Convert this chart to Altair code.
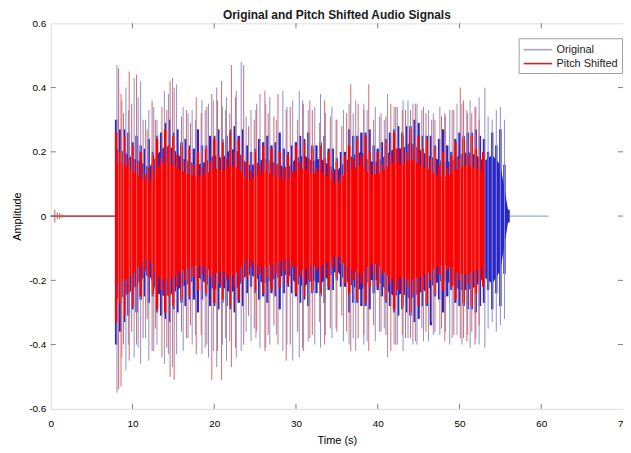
import altair as alt
import pandas as pd

# ---------------- data ----------------
# solid inner body of each waveform, one value per second
red_in_t = [8, 9, 10, 11, 12, 13, 14, 15, 16, 17, 18, 19, 20, 21, 22, 23, 24, 25, 26, 27,
            28, 29, 30, 31, 32, 33, 34, 35, 36, 37, 38, 39, 40, 41, 42, 43, 44, 45, 46, 47,
            48, 49, 50, 51, 52, 52.9]
red_in_hi = [0.17, 0.16, 0.14, 0.12, 0.10, 0.15, 0.17, 0.16, 0.14, 0.13, 0.12, 0.13, 0.15, 0.14, 0.16,
             0.15, 0.11, 0.12, 0.14, 0.13, 0.12, 0.11, 0.14, 0.15, 0.13, 0.14, 0.12, 0.10, 0.13, 0.15,
             0.16, 0.13, 0.13, 0.15, 0.17, 0.16, 0.18, 0.16, 0.15, 0.13, 0.12, 0.13, 0.15, 0.16, 0.15,
             0.14]
red_in_lo = [-0.21, -0.20, -0.18, -0.15, -0.13, -0.19, -0.20, -0.19, -0.17, -0.16, -0.15, -0.16, -0.18, -0.17, -0.19,
             -0.17, -0.13, -0.15, -0.16, -0.15, -0.14, -0.13, -0.16, -0.17, -0.15, -0.16, -0.14, -0.12, -0.15, -0.17,
             -0.18, -0.15, -0.15, -0.18, -0.20, -0.19, -0.20, -0.19, -0.18, -0.16, -0.15, -0.16, -0.18, -0.18, -0.17,
             -0.16]
blue_in_t = [8, 9, 10, 11, 12, 13, 14, 15, 16, 17, 18, 19, 20, 21, 22, 23, 24, 25, 26, 27,
             28, 29, 30, 31, 32, 33, 34, 35, 36, 37, 38, 39, 40, 41, 42, 43, 44, 45, 46, 47,
             48, 49, 50, 51, 52, 53, 54, 55, 56]
blue_in_hi = [0.21, 0.20, 0.18, 0.17, 0.15, 0.19, 0.22, 0.21, 0.18, 0.17, 0.16, 0.17, 0.19, 0.18, 0.21,
              0.20, 0.16, 0.16, 0.18, 0.17, 0.16, 0.15, 0.18, 0.19, 0.17, 0.18, 0.16, 0.14, 0.17, 0.19,
              0.20, 0.17, 0.17, 0.19, 0.21, 0.21, 0.23, 0.21, 0.19, 0.18, 0.17, 0.17, 0.19, 0.20, 0.19,
              0.17, 0.19, 0.16, 0.01]
blue_in_lo = [-0.26, -0.25, -0.23, -0.20, -0.18, -0.24, -0.25, -0.24, -0.22, -0.21, -0.19, -0.21, -0.23, -0.22, -0.24,
              -0.22, -0.18, -0.19, -0.21, -0.20, -0.19, -0.18, -0.21, -0.22, -0.20, -0.21, -0.19, -0.17, -0.20, -0.22,
              -0.23, -0.20, -0.20, -0.23, -0.25, -0.24, -0.26, -0.24, -0.23, -0.21, -0.20, -0.21, -0.23, -0.23, -0.22,
              -0.19, -0.21, -0.17, -0.01]

# dense strokes forming the ragged edge, every half second
red_t = [8.0, 8.5, 9.0, 9.5, 10.0, 10.5, 11.0, 11.5, 12.0, 12.5,
         13.0, 13.5, 14.0, 14.5, 15.0, 15.5, 16.0, 16.5, 17.0, 17.5,
         18.0, 18.5, 19.0, 19.5, 20.0, 20.5, 21.0, 21.5, 22.0, 22.5,
         23.0, 23.5, 24.0, 24.5, 25.0, 25.5, 26.0, 26.5, 27.0, 27.5,
         28.0, 28.5, 29.0, 29.5, 30.0, 30.5, 31.0, 31.5, 32.0, 32.5,
         33.0, 33.5, 34.0, 34.5, 35.0, 35.5, 36.0, 36.5, 37.0, 37.5,
         38.0, 38.5, 39.0, 39.5, 40.0, 40.5, 41.0, 41.5, 42.0, 42.5,
         43.0, 43.5, 44.0, 44.5, 45.0, 45.5, 46.0, 46.5, 47.0, 47.5,
         48.0, 48.5, 49.0, 49.5, 50.0, 50.5, 51.0, 51.5, 52.0, 52.5,
         52.9]
red_hi = [0.26, 0.20, 0.25, 0.18, 0.22, 0.17, 0.20, 0.13, 0.15, 0.19,
          0.24, 0.18, 0.27, 0.22, 0.25, 0.19, 0.22, 0.17, 0.21, 0.16,
          0.20, 0.15, 0.21, 0.17, 0.24, 0.19, 0.23, 0.18, 0.26, 0.20,
          0.24, 0.19, 0.17, 0.14, 0.20, 0.16, 0.22, 0.17, 0.21, 0.16,
          0.20, 0.15, 0.19, 0.14, 0.22, 0.17, 0.23, 0.18, 0.21, 0.15,
          0.22, 0.18, 0.20, 0.14, 0.17, 0.13, 0.19, 0.22, 0.18, 0.24,
          0.19, 0.25, 0.20, 0.16, 0.20, 0.16, 0.23, 0.19, 0.26, 0.21,
          0.25, 0.20, 0.27, 0.22, 0.25, 0.21, 0.24, 0.18, 0.21, 0.16,
          0.20, 0.15, 0.19, 0.23, 0.18, 0.24, 0.19, 0.25, 0.21, 0.18,
          0.20]
red_lo = [-0.33, -0.27, -0.31, -0.24, -0.28, -0.22, -0.25, -0.17, -0.19, -0.24,
          -0.29, -0.23, -0.30, -0.25, -0.28, -0.22, -0.26, -0.20, -0.25, -0.19,
          -0.23, -0.18, -0.24, -0.19, -0.27, -0.21, -0.26, -0.20, -0.28, -0.22,
          -0.26, -0.20, -0.19, -0.16, -0.23, -0.18, -0.24, -0.19, -0.23, -0.18,
          -0.22, -0.17, -0.21, -0.16, -0.24, -0.19, -0.25, -0.20, -0.23, -0.17,
          -0.24, -0.19, -0.22, -0.16, -0.19, -0.15, -0.21, -0.24, -0.20, -0.26,
          -0.21, -0.27, -0.22, -0.18, -0.22, -0.18, -0.26, -0.21, -0.29, -0.23,
          -0.28, -0.22, -0.30, -0.24, -0.28, -0.23, -0.27, -0.20, -0.24, -0.18,
          -0.23, -0.17, -0.22, -0.26, -0.20, -0.27, -0.21, -0.28, -0.24, -0.20,
          -0.22]

blue_t = [8.0, 8.5, 9.0, 9.5, 10.0, 10.5, 11.0, 11.5, 12.0, 12.5,
          13.0, 13.5, 14.0, 14.5, 15.0, 15.5, 16.0, 16.5, 17.0, 17.5,
          18.0, 18.5, 19.0, 19.5, 20.0, 20.5, 21.0, 21.5, 22.0, 22.5,
          23.0, 23.5, 24.0, 24.5, 25.0, 25.5, 26.0, 26.5, 27.0, 27.5,
          28.0, 28.5, 29.0, 29.5, 30.0, 30.5, 31.0, 31.5, 32.0, 32.5,
          33.0, 33.5, 34.0, 34.5, 35.0, 35.5, 36.0, 36.5, 37.0, 37.5,
          38.0, 38.5, 39.0, 39.5, 40.0, 40.5, 41.0, 41.5, 42.0, 42.5,
          43.0, 43.5, 44.0, 44.5, 45.0, 45.5, 46.0, 46.5, 47.0, 47.5,
          48.0, 48.5, 49.0, 49.5, 50.0, 50.5, 51.0, 51.5, 52.0, 52.5,
          53.0, 53.5, 54.0, 54.5, 55.0, 55.5, 56.0]
blue_hi = [0.30, 0.27, 0.27, 0.26, 0.23, 0.25, 0.22, 0.21, 0.24, 0.20,
           0.25, 0.26, 0.29, 0.30, 0.26, 0.27, 0.23, 0.24, 0.22, 0.21,
           0.27, 0.22, 0.22, 0.25, 0.25, 0.27, 0.24, 0.25, 0.27, 0.28,
           0.25, 0.27, 0.22, 0.20, 0.21, 0.24, 0.23, 0.25, 0.22, 0.23,
           0.26, 0.21, 0.20, 0.22, 0.23, 0.25, 0.24, 0.26, 0.22, 0.22,
           0.23, 0.25, 0.21, 0.21, 0.18, 0.20, 0.20, 0.27, 0.25, 0.25,
           0.26, 0.26, 0.27, 0.22, 0.21, 0.23, 0.24, 0.26, 0.27, 0.28,
           0.26, 0.28, 0.28, 0.30, 0.29, 0.25, 0.25, 0.25, 0.22, 0.24,
           0.27, 0.22, 0.20, 0.24, 0.26, 0.25, 0.26, 0.26, 0.27, 0.25,
           0.24, 0.20, 0.26, 0.22, 0.27, 0.16, 0.02]
blue_lo = [-0.40, -0.36, -0.33, -0.31, -0.29, -0.30, -0.26, -0.25, -0.27, -0.25,
           -0.30, -0.31, -0.32, -0.33, -0.29, -0.30, -0.27, -0.28, -0.26, -0.26,
           -0.30, -0.26, -0.25, -0.28, -0.28, -0.29, -0.27, -0.28, -0.29, -0.30,
           -0.27, -0.28, -0.24, -0.22, -0.24, -0.26, -0.25, -0.27, -0.24, -0.25,
           -0.29, -0.24, -0.22, -0.24, -0.25, -0.27, -0.26, -0.28, -0.24, -0.24,
           -0.25, -0.27, -0.23, -0.23, -0.20, -0.22, -0.22, -0.30, -0.27, -0.27,
           -0.28, -0.28, -0.29, -0.24, -0.23, -0.25, -0.27, -0.28, -0.30, -0.31,
           -0.29, -0.30, -0.31, -0.33, -0.32, -0.28, -0.28, -0.34, -0.25, -0.26,
           -0.30, -0.25, -0.23, -0.27, -0.28, -0.28, -0.29, -0.29, -0.30, -0.28,
           -0.27, -0.23, -0.29, -0.24, -0.28, -0.18, -0.02]

# isolated tall excursions (time, upper, lower)
red_spike_t = [8.3, 8.6, 9.6, 10.5, 11.3, 12.4, 13.6, 14.6, 15.1, 16.6,
               17.8, 19.7, 20.9, 22.1, 23.6, 25.2, 26.2, 27.8, 28.8, 30.9,
               31.7, 33.5, 35.0, 36.7, 38.9, 40.4, 41.6, 43.0, 44.0, 45.4,
               47.0, 48.2, 50.1, 50.9, 51.9]
red_spike_hi = [0.46, 0.38, 0.45, 0.44, 0.30, 0.36, 0.34, 0.42, 0.40, 0.33,
                0.37, 0.38, 0.42, 0.47, 0.47, 0.35, 0.39, 0.38, 0.33, 0.35,
                0.36, 0.36, 0.30, 0.41, 0.41, 0.32, 0.35, 0.33, 0.33, 0.33,
                0.30, 0.32, 0.40, 0.33, 0.34]
red_spike_lo = [-0.54, -0.53, -0.45, -0.40, -0.38, -0.42, -0.44, -0.50, -0.51, -0.38,
                -0.43, -0.51, -0.51, -0.47, -0.40, -0.36, -0.42, -0.40, -0.45, -0.42,
                -0.38, -0.40, -0.36, -0.42, -0.42, -0.36, -0.42, -0.37, -0.38, -0.35,
                -0.36, -0.39, -0.38, -0.39, -0.40]
red_mid_t = [8.9, 9.9, 11.8, 12.8, 14.2, 16.0, 17.1, 18.4, 19.1, 20.4,
             21.4, 22.6, 24.2, 24.9, 26.6, 27.3, 29.3, 30.2, 32.0, 32.9,
             34.2, 35.6, 36.2, 37.6, 38.3, 39.5, 41.0, 42.2, 43.4, 44.6,
             45.9, 46.6, 47.8, 49.3, 50.5, 51.5, 52.4]
red_mid_hi = [0.32, 0.35, 0.27, 0.30, 0.33, 0.31, 0.29, 0.32, 0.34, 0.36,
              0.33, 0.37, 0.28, 0.30, 0.32, 0.31, 0.34, 0.30, 0.33, 0.29,
              0.31, 0.28, 0.32, 0.35, 0.33, 0.30, 0.31, 0.34, 0.33, 0.35,
              0.32, 0.30, 0.31, 0.33, 0.36, 0.32, 0.30]
red_mid_lo = [-0.40, -0.36, -0.32, -0.35, -0.41, -0.36, -0.34, -0.37, -0.40, -0.42,
              -0.38, -0.41, -0.31, -0.35, -0.37, -0.34, -0.40, -0.36, -0.37, -0.33,
              -0.35, -0.31, -0.36, -0.38, -0.37, -0.34, -0.37, -0.40, -0.38, -0.39,
              -0.36, -0.33, -0.35, -0.37, -0.38, -0.36, -0.34]

blue_spike_t = [8.1, 9.2, 10.2, 11.0, 12.0, 13.0, 13.9, 14.9, 15.4, 16.2,
                17.3, 18.5, 19.3, 20.3, 21.5, 22.7, 23.3, 24.5, 25.6, 26.8,
                28.4, 29.6, 30.4, 32.3, 33.0, 34.4, 35.8, 37.3, 38.3, 39.7,
                41.2, 42.4, 43.7, 44.8, 46.2, 47.6, 48.8, 49.7, 51.3, 52.4,
                53.1, 54.0, 55.0, 55.5]
blue_spike_hi = [0.47, 0.40, 0.43, 0.42, 0.33, 0.30, 0.39, 0.43, 0.41, 0.34,
                 0.33, 0.36, 0.35, 0.40, 0.37, 0.39, 0.48, 0.33, 0.38, 0.37,
                 0.39, 0.36, 0.39, 0.34, 0.38, 0.34, 0.33, 0.36, 0.35, 0.34,
                 0.38, 0.34, 0.36, 0.35, 0.33, 0.34, 0.33, 0.35, 0.36, 0.37,
                 0.40, 0.30, 0.34, 0.30]
blue_spike_lo = [-0.55, -0.48, -0.44, -0.46, -0.45, -0.40, -0.46, -0.47, -0.43, -0.42,
                 -0.40, -0.43, -0.44, -0.47, -0.45, -0.44, -0.42, -0.39, -0.41, -0.40,
                 -0.42, -0.45, -0.44, -0.40, -0.41, -0.38, -0.39, -0.42, -0.40, -0.39,
                 -0.44, -0.40, -0.38, -0.40, -0.39, -0.37, -0.40, -0.37, -0.41, -0.40,
                 -0.41, -0.33, -0.34, -0.32]
blue_mid_t = [8.7, 9.5, 10.7, 11.6, 12.6, 14.4, 16.8, 17.7, 18.9, 19.9,
              21.0, 21.9, 23.9, 25.1, 26.3, 27.6, 28.9, 30.8, 31.5, 33.6,
              34.9, 36.5, 37.0, 38.7, 40.2, 40.8, 42.0, 43.1, 44.3, 45.6,
              46.8, 48.3, 49.1, 50.3, 51.0, 52.0, 53.5, 54.5]
blue_mid_hi = [0.36, 0.33, 0.37, 0.30, 0.34, 0.38, 0.32, 0.30, 0.33, 0.36,
               0.34, 0.32, 0.31, 0.33, 0.35, 0.30, 0.34, 0.36, 0.33, 0.32,
               0.30, 0.35, 0.32, 0.33, 0.31, 0.30, 0.34, 0.36, 0.35, 0.34,
               0.32, 0.31, 0.33, 0.35, 0.32, 0.34, 0.31, 0.33]
blue_mid_lo = [-0.44, -0.40, -0.41, -0.38, -0.42, -0.43, -0.38, -0.37, -0.41, -0.42,
               -0.40, -0.39, -0.36, -0.38, -0.41, -0.37, -0.40, -0.41, -0.39, -0.37,
               -0.35, -0.40, -0.38, -0.39, -0.36, -0.35, -0.40, -0.42, -0.40, -0.39,
               -0.37, -0.36, -0.38, -0.40, -0.37, -0.38, -0.35, -0.36]

# tiny clicks near the start
blip_t = [0.5, 0.8, 1.1, 1.4]
blip_hi = [0.02, 0.012, 0.01, 0.006]
blip_lo = [-0.02, -0.01, -0.01, -0.006]

# silent (zero) stretch of each signal: start / end times
series_names = ["Original", "Pitch Shifted"]
silent_start = [0.0, 0.0]
silent_end = [60.9, 8.0]

x_tick_values = [0, 10, 20, 30, 40, 50, 60, 70]
y_tick_values = [-0.6, -0.4, -0.2, 0.0, 0.2, 0.4, 0.6]
x_inner_ticks = [10, 20, 30, 40, 50, 60]
y_inner_ticks = [-0.4, -0.2, 0.0, 0.2, 0.4]

# ---------------- build tables ----------------
def table(t, hi, lo):
    return pd.DataFrame({"t": t, "hi": hi, "lo": lo})

red_inner = table(red_in_t, red_in_hi, red_in_lo)
blue_inner = table(blue_in_t, blue_in_hi, blue_in_lo)
red_edge = table(red_t, red_hi, red_lo)
blue_edge = table(blue_t, blue_hi, blue_lo)
red_spk = pd.concat([table(red_mid_t, red_mid_hi, red_mid_lo),
                     table(red_spike_t, red_spike_hi, red_spike_lo)])
blue_spk = pd.concat([table(blue_mid_t, blue_mid_hi, blue_mid_lo),
                      table(blue_spike_t, blue_spike_hi, blue_spike_lo)])
blips = table(blip_t, blip_hi, blip_lo)
silent = pd.DataFrame({"series": series_names, "t": silent_start, "t2": silent_end})
xt = pd.DataFrame({"v": x_inner_ticks})
yt = pd.DataFrame({"v": y_inner_ticks})

W, H = 576, 388
FONT = "Liberation Sans"
AX = "#7d7d7d"
BLUE = "#2626c9"
RED = "#ff0000"

xscale = alt.Scale(domain=[0, 70], nice=False, zero=False)
yscale = alt.Scale(domain=[-0.6, 0.6], nice=False, zero=False)

X = alt.X("t:Q", scale=xscale,
          axis=alt.Axis(values=x_tick_values, title="Time (s)", format="d",
                        labelFlush=False, labelPadding=10, titlePadding=6,
                        titleFontWeight="normal",
                        ticks=False, tickSize=0, domain=False, grid=False))
Y = alt.Y("hi:Q", scale=yscale,
          axis=alt.Axis(values=y_tick_values, title="Amplitude",
                        labelExpr="datum.value == 0 ? '0' : (datum.value < 0 ? '-' : '') + format(abs(datum.value), '.1f')",
                        labelPadding=5, titlePadding=6, ticks=False, tickSize=0,
                        titleFontWeight="normal",
                        domain=False, grid=False))

zero_lines = alt.Chart(silent).mark_rule(strokeWidth=1.2).encode(
    x=X, x2="t2:Q", y=alt.datum(0),
    color=alt.Color("series:N",
                    scale=alt.Scale(domain=series_names, range=["#a3a7cf", "#cc2222"]),
                    legend=alt.Legend(orient="none", legendX=471, legendY=15, title=None,
                                      symbolType="M-1,0H3.4", symbolSize=169, symbolStrokeWidth=1.6,
                                      labelFont=FONT, labelFontSize=11, labelColor="#222222",
                                      labelOffset=19, padding=4, rowPadding=1,
                                      strokeColor="#a0a0a0", fillColor="white")),
)

def body(df, color):
    return alt.Chart(df).mark_area(color=color, interpolate="linear").encode(
        x=X, y=Y, y2="lo:Q")

def strokes(df, color, width, opacity=1.0):
    return alt.Chart(df).mark_rule(color=color, strokeWidth=width, opacity=opacity).encode(
        x="t:Q", y="hi:Q", y2="lo:Q")

chart = alt.layer(
    zero_lines,
    strokes(blips, "#b06a6a", 1),
    body(blue_inner, BLUE),
    strokes(blue_edge, BLUE, 2.4),
    strokes(blue_spk, "#8e8ecc", 1),
    body(red_inner, RED),
    strokes(red_edge, RED, 2.4),
    strokes(red_spk, "#d86868", 1),
    alt.Chart(xt).mark_rule(color=AX).encode(x="v:Q", y=alt.value(H), y2=alt.value(H - 5)),
    alt.Chart(xt).mark_rule(color=AX).encode(x="v:Q", y=alt.value(0), y2=alt.value(5)),
    alt.Chart(yt).mark_rule(color=AX).encode(y="v:Q", x=alt.value(0), x2=alt.value(5)),
    alt.Chart(yt).mark_rule(color=AX).encode(y="v:Q", x=alt.value(W), x2=alt.value(W - 5)),
).properties(
    width=W, height=H,
    title=alt.Title("Original and Pitch Shifted Audio Signals", font=FONT, fontSize=12,
                    fontWeight="bold", color="#1a1a1a", offset=0, dy=4),
    padding={"left": 43, "top": 14, "right": 0, "bottom": 40},
    autosize=alt.AutoSizeParams(type="none"),
).configure_view(
    stroke=AX, strokeWidth=1
).configure_axis(
    labelFont=FONT, labelFontSize=11, labelColor="#4a4a4a",
    titleFont=FONT, titleFontSize=12, titleFontWeight="normal", titleColor="#333333",
).configure(background="white")

chart.save("out.html", embed_options={"renderer": "svg", "actions": False})
